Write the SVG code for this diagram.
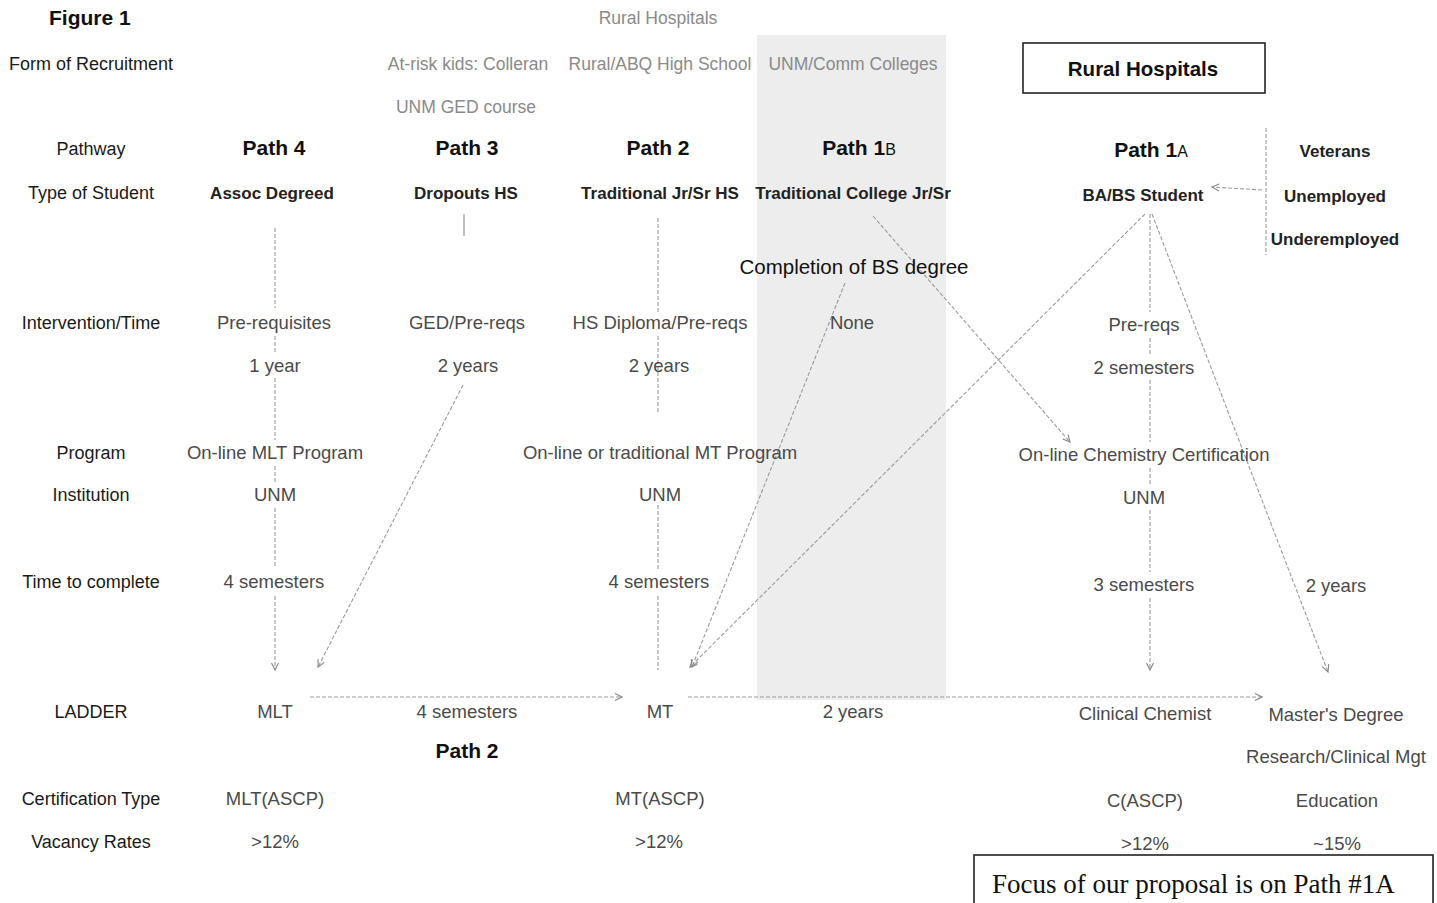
<svg xmlns="http://www.w3.org/2000/svg" width="1437" height="903" viewBox="0 0 1437 903">
<defs>
<style>
text{font-family:"Liberation Sans",Arial,sans-serif;text-anchor:middle}
.lbl{font-size:18px;fill:#1a1a1a}
.hd{font-size:21px;font-weight:bold;fill:#111}
.st{font-size:17px;font-weight:bold;fill:#222}
.v{font-size:18.5px;fill:#4a4a4a}
.f{font-size:17.5px;fill:#8a8a8a}
.ln{stroke:#9a9a9a;stroke-width:1.1;fill:none;stroke-dasharray:4 2}
.sl{stroke:#8a8a8a;stroke-width:1.1;fill:none}
</style>
<marker id="ah" viewBox="0 0 10 10" refX="9" refY="5" markerWidth="8" markerHeight="8" orient="auto-start-reverse">
<path d="M1,1 L9,5 L1,9" fill="none" stroke="#8a8a8a" stroke-width="1.3"/>
</marker>
</defs>
<rect width="1437" height="903" fill="#fff"/>
<rect id="shade" x="757" y="35" width="189" height="665" fill="#ededed"/>

<g id="connectors">
<path class="ln" d="M275,228 V308 M275,336 V354 M275,378 V440 M275,466 V484 M275,508 V568 M275,596 V670" marker-end="url(#ah)"/>
<path class="sl" d="M464,214 V236"/>
<path class="ln" d="M463,385 L318,667" marker-end="url(#ah)"/>
<path class="ln" d="M658,218 V312 M658,336 V412 M658,505 V570 M658,596 V670"/>
<path class="ln" d="M845,283 L692,667" marker-end="url(#ah)"/>
<path class="ln" d="M873,216 L1070,442" marker-end="url(#ah)"/>
<path class="ln" d="M1145,214 L690,667" marker-end="url(#ah)"/>
<path class="ln" d="M1150,214 V312 M1150,338 V356 M1150,380 V442 M1150,468 V486 M1150,510 V572 M1150,598 V670" marker-end="url(#ah)"/>
<path class="ln" d="M1152,214 L1328,672" marker-end="url(#ah)"/>
<path class="ln" d="M1266,128 V255"/>
<path class="ln" d="M1262,190 L1212,187" marker-end="url(#ah)"/>
<path class="ln" d="M310,697 H622" marker-end="url(#ah)"/>
<path class="ln" d="M688,697 H1262" marker-end="url(#ah)"/>
</g>

<g id="title"><text x="49" y="25" style="text-anchor:start;font-size:21px;font-weight:bold;fill:#111">Figure 1</text></g>
<g id="rural-top"><text class="f" x="658" y="24">Rural Hospitals</text></g>

<g id="row-recruit">
<text class="lbl" x="91" y="70">Form of Recruitment</text>
<text class="f" x="468" y="70">At-risk kids: Colleran</text>
<text class="f" x="660" y="70">Rural/ABQ High School</text>
<text class="f" x="853" y="70">UNM/Comm Colleges</text>
<text class="f" x="466" y="113">UNM GED course</text>
</g>
<g id="rural-box">
<rect x="1023" y="43" width="242" height="50" fill="none" stroke="#222" stroke-width="1.6"/>
<text x="1143" y="76" style="font-size:20.5px;font-weight:bold;fill:#111">Rural Hospitals</text>
</g>

<g id="row-pathway">
<text class="lbl" x="91" y="155">Pathway</text>
<text class="hd" x="274" y="155">Path 4</text>
<text class="hd" x="467" y="155">Path 3</text>
<text class="hd" x="658" y="155">Path 2</text>
<text class="hd" x="859" y="155">Path 1<tspan style="font-size:16px;font-weight:normal">B</tspan></text>
<text class="hd" x="1151" y="157">Path 1<tspan style="font-size:16px;font-weight:normal">A</tspan></text>
</g>
<g id="others">
<text class="st" x="1335" y="157">Veterans</text>
<text class="st" x="1335" y="202">Unemployed</text>
<text class="st" x="1335" y="245">Underemployed</text>
</g>

<g id="row-student">
<text class="lbl" x="91" y="199">Type of Student</text>
<text class="st" x="272" y="199">Assoc Degreed</text>
<text class="st" x="466" y="199">Dropouts HS</text>
<text class="st" x="660" y="199">Traditional Jr/Sr HS</text>
<text class="st" x="853" y="199">Traditional College Jr/Sr</text>
<text class="st" x="1143" y="201">BA/BS Student</text>
</g>
<g id="completion"><text x="854" y="274" style="font-size:20.5px;fill:#111">Completion of BS degree</text></g>

<g id="row-intervention">
<text class="lbl" x="91" y="329">Intervention/Time</text>
<text class="v" x="274" y="329">Pre-requisites</text>
<text class="v" x="467" y="329">GED/Pre-reqs</text>
<text class="v" x="660" y="329">HS Diploma/Pre-reqs</text>
<text class="v" x="852" y="329">None</text>
<text class="v" x="1144" y="331">Pre-reqs</text>
<text class="v" x="275" y="372">1 year</text>
<text class="v" x="468" y="372">2 years</text>
<text class="v" x="659" y="372">2 years</text>
<text class="v" x="1144" y="374">2 semesters</text>
</g>

<g id="row-program">
<text class="lbl" x="91" y="459">Program</text>
<text class="v" x="275" y="459">On-line MLT Program</text>
<text class="v" x="660" y="459">On-line or traditional MT Program</text>
<text class="v" x="1144" y="461">On-line Chemistry Certification</text>
</g>
<g id="row-institution">
<text class="lbl" x="91" y="501">Institution</text>
<text class="v" x="275" y="501">UNM</text>
<text class="v" x="660" y="501">UNM</text>
<text class="v" x="1144" y="504">UNM</text>
</g>
<g id="row-time">
<text class="lbl" x="91" y="588">Time to complete</text>
<text class="v" x="274" y="588">4 semesters</text>
<text class="v" x="659" y="588">4 semesters</text>
<text class="v" x="1144" y="591">3 semesters</text>
<text class="v" x="1336" y="592">2 years</text>
</g>
<g id="row-ladder">
<text class="lbl" x="91" y="718">LADDER</text>
<text class="v" x="275" y="718">MLT</text>
<text class="v" x="467" y="718">4 semesters</text>
<text class="v" x="660" y="718">MT</text>
<text class="v" x="853" y="718">2 years</text>
<text class="v" x="1145" y="720">Clinical Chemist</text>
<text class="v" x="1336" y="721">Master's Degree</text>
</g>
<g id="path2-label"><text class="hd" x="467" y="758">Path 2</text></g>
<g id="research"><text class="v" x="1336" y="763">Research/Clinical Mgt</text></g>
<g id="row-cert">
<text class="lbl" x="91" y="805">Certification Type</text>
<text class="v" x="275" y="805">MLT(ASCP)</text>
<text class="v" x="660" y="805">MT(ASCP)</text>
<text class="v" x="1145" y="807">C(ASCP)</text>
<text class="v" x="1337" y="807">Education</text>
</g>
<g id="row-vacancy">
<text class="lbl" x="91" y="848">Vacancy Rates</text>
<text class="v" x="275" y="848">&gt;12%</text>
<text class="v" x="659" y="848">&gt;12%</text>
<text class="v" x="1145" y="850">&gt;12%</text>
<text class="v" x="1337" y="850">~15%</text>
</g>
<g id="focus-box">
<rect x="974" y="855" width="459" height="52" fill="#fff" stroke="#222" stroke-width="1.6"/>
<text x="992" y="893" style="text-anchor:start;font-family:'Liberation Serif','Times New Roman',serif;font-size:27px;fill:#111">Focus of our proposal is on Path #1A</text>
</g>
</svg>
